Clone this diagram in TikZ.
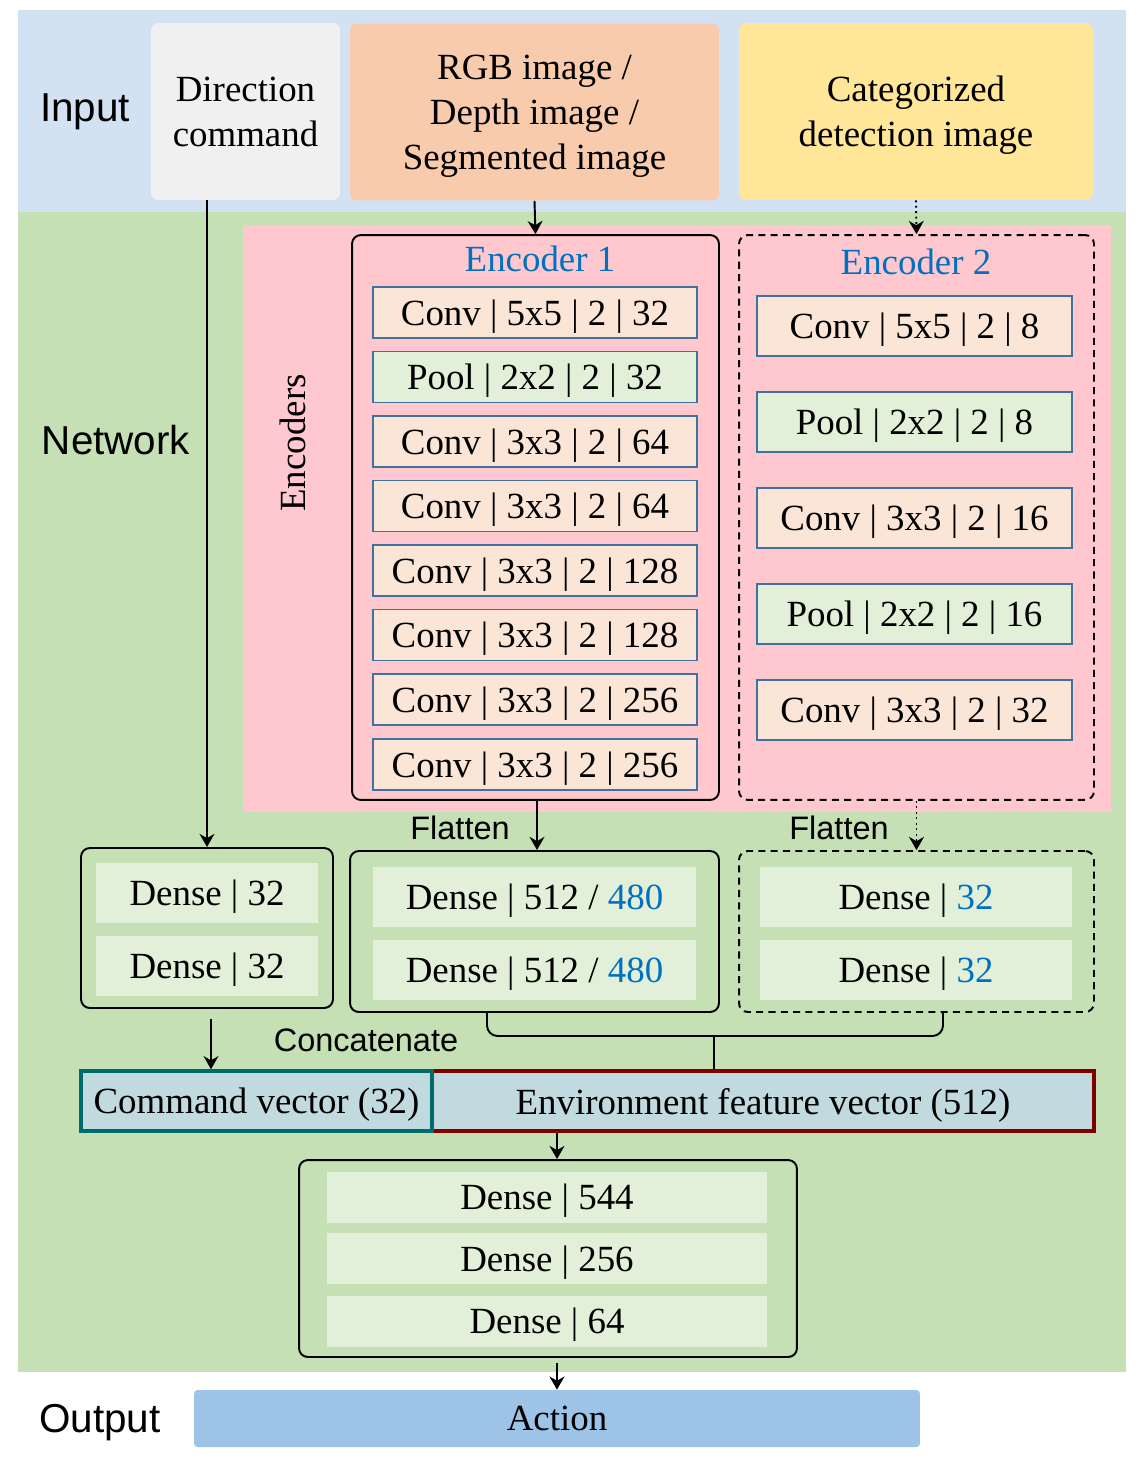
\documentclass[tikz,border=0pt]{standalone}
\usepackage{fontspec}
\setmainfont{Liberation Serif}
\setsansfont{Liberation Sans}
\usetikzlibrary{arrows.meta,calc}

\definecolor{inband}{HTML}{D2E2F2}
\definecolor{netband}{HTML}{C5E0B4}
\definecolor{dirfill}{HTML}{F0F0F0}
\definecolor{imgfill}{HTML}{F8CBAD}
\definecolor{detfill}{HTML}{FFE699}
\definecolor{encpink}{HTML}{FFC7CE}
\definecolor{convfill}{HTML}{FBE5D6}
\definecolor{poolfill}{HTML}{E2F0D9}
\definecolor{layerline}{HTML}{41719C}
\definecolor{numblue}{HTML}{0070C0}
\definecolor{vecfill}{HTML}{C1DADF}
\definecolor{cmdline}{HTML}{006B6B}
\definecolor{envline}{HTML}{800000}
\definecolor{actfill}{HTML}{9DC3E6}

\tikzset{
    txt/.style={font=\fontsize{21}{25.5}\selectfont, align=center, text depth=0pt},
    sans/.style={font=\sffamily\fontsize{23}{27}\selectfont, text depth=0pt},
    small sans/.style={font=\sffamily\fontsize{18.5}{22}\selectfont},
    inbox/.style={txt, rounded corners=4pt, inner sep=0pt, minimum height=3.54cm},
    layer/.style={txt, draw=layerline, line width=0.9pt, inner sep=0pt},
    conv/.style={layer, fill=convfill},
    pool/.style={layer, fill=poolfill},
    dense/.style={txt, fill=poolfill, inner sep=0pt, minimum height=1.2cm},
    group/.style={draw, line width=1.1pt, rounded corners=5pt, inner sep=0pt},
    arr/.style={-{Stealth[length=7.5pt,width=8.5pt]}, line width=1.1pt},
}

\begin{document}
\begin{tikzpicture}[x=0.02cm, y=-0.02cm]
    \useasboundingbox (0,0) rectangle (1144,1468);

    % bands
    \node[fill=inband, minimum width=22.16cm, minimum height=4.04cm, inner sep=0pt] (inband) at (572,111) {};
    \node[fill=netband, minimum width=22.16cm, minimum height=23.2cm, inner sep=0pt] (netband) at (572,792) {};
    \node[sans] (inlbl) at (85,108) {Input};
    \node[sans] (netlbl) at (116,440) {Network};
    \node[sans] (outlbl) at (100,1418) {Output};

    % inputs
    \node[inbox, fill=dirfill, minimum width=3.78cm] (dircmd) at (245.5,111.5) {Direction\\command};
    \node[inbox, fill=imgfill, minimum width=7.38cm] (img) at (534.5,112) {RGB image /\\Depth image /\\Segmented image};
    \node[inbox, fill=detfill, minimum width=7.08cm] (det) at (916,111.5) {Categorized\\detection image};

    % encoders
    \node[fill=encpink, minimum width=17.36cm, minimum height=11.74cm, inner sep=0pt] (encs) at (677,518.5) {};
    \node[txt, rotate=90] (encslbl) at (293,443) {Encoders};

    \node[group, fill=encpink, minimum width=7.34cm, minimum height=11.3cm] (enc1) at (535.5,517.5) {};
    \node[txt, text=numblue] (enc1lbl) at (540,259) {Encoder 1};
    \node[conv, minimum width=6.48cm, minimum height=1.02cm] (e1a) at (535,312.5) {Conv | 5x5 | 2 | 32};
    \node[pool, minimum width=6.48cm, minimum height=1.02cm] (e1b) at (535,377) {Pool | 2x2 | 2 | 32};
    \node[conv, minimum width=6.48cm, minimum height=1.02cm] (e1c) at (535,441.5) {Conv | 3x3 | 2 | 64};
    \node[conv, minimum width=6.48cm, minimum height=1.02cm] (e1d) at (535,506) {Conv | 3x3 | 2 | 64};
    \node[conv, minimum width=6.48cm, minimum height=1.02cm] (e1e) at (535,570.5) {Conv | 3x3 | 2 | 128};
    \node[conv, minimum width=6.48cm, minimum height=1.02cm] (e1f) at (535,635) {Conv | 3x3 | 2 | 128};
    \node[conv, minimum width=6.48cm, minimum height=1.02cm] (e1g) at (535,699.5) {Conv | 3x3 | 2 | 256};
    \node[conv, minimum width=6.48cm, minimum height=1.02cm] (e1h) at (535,764.5) {Conv | 3x3 | 2 | 256};

    \node[group, dashed, dash pattern=on 4pt off 3pt, minimum width=7.1cm, minimum height=11.3cm] (enc2) at (916.5,517.5) {};
    \node[txt, text=numblue] (enc2lbl) at (916,262) {Encoder 2};
    \node[conv, minimum width=6.3cm, minimum height=1.2cm] (e2a) at (914.5,326) {Conv | 5x5 | 2 | 8};
    \node[pool, minimum width=6.3cm, minimum height=1.2cm] (e2b) at (914.5,422) {Pool | 2x2 | 2 | 8};
    \node[conv, minimum width=6.3cm, minimum height=1.2cm] (e2c) at (914.5,518) {Conv | 3x3 | 2 | 16};
    \node[pool, minimum width=6.3cm, minimum height=1.2cm] (e2d) at (914.5,614) {Pool | 2x2 | 2 | 16};
    \node[conv, minimum width=6.3cm, minimum height=1.2cm] (e2e) at (914.5,710) {Conv | 3x3 | 2 | 32};

    % dense branches
    \node[group, minimum width=5.04cm, minimum height=3.2cm] (cmdgrp) at (207,928) {};
    \node[dense, minimum width=4.44cm] (cmdd1) at (207,893) {Dense | 32};
    \node[dense, minimum width=4.44cm] (cmdd2) at (207,965.5) {Dense | 32};

    \node[small sans] (flat1) at (460,828) {Flatten};
    \node[group, minimum width=7.38cm, minimum height=3.22cm] (imggrp) at (534.5,931.5) {};
    \node[dense, minimum width=6.46cm] (imgd1) at (534.5,897) {Dense | 512 / \textcolor{numblue}{480}};
    \node[dense, minimum width=6.46cm] (imgd2) at (534.5,970) {Dense | 512 / \textcolor{numblue}{480}};

    \node[small sans] (flat2) at (839,828) {Flatten};
    \node[group, dashed, dash pattern=on 4pt off 3pt, minimum width=7.1cm, minimum height=3.22cm] (detgrp) at (916.5,931.5) {};
    \node[dense, minimum width=6.24cm] (detd1) at (916,897) {Dense | \textcolor{numblue}{32}};
    \node[dense, minimum width=6.24cm] (detd2) at (916,969.5) {Dense | \textcolor{numblue}{32}};

    % concatenation
    \node[small sans] (concat) at (366,1040) {Concatenate};
    \node[txt, fill=vecfill, draw=envline, line width=2pt, minimum width=13.24cm, minimum height=1.2cm, inner sep=0pt] (envvec) at (763,1101) {Environment feature vector (512)};
    \node[txt, fill=vecfill, draw=cmdline, line width=2pt, minimum width=7.02cm, minimum height=1.2cm, inner sep=0pt] (cmdvec) at (256.5,1101) {Command vector (32)};
    \coordinate (brl) at (487,1012);
    \coordinate (brr) at (943,1012);
    \coordinate (brm) at (714,1036);
    \draw[line width=1.1pt, rounded corners=6pt] (brl) -- (brl |- brm) -- (brr |- brm) -- (brr);
    \draw[line width=1.1pt] (brm) -- (envvec.north -| brm);

    % head
    \node[group, minimum width=9.96cm, minimum height=3.94cm] (outgrp) at (548,1258.5) {};
    \node[dense, minimum width=8.8cm, minimum height=1.02cm] (outd1) at (547,1197) {Dense | 544};
    \node[dense, minimum width=8.8cm, minimum height=1.02cm] (outd2) at (547,1258.5) {Dense | 256};
    \node[dense, minimum width=8.8cm, minimum height=1.02cm] (outd3) at (547,1321) {Dense | 64};

    \node[txt, fill=actfill, rounded corners=2pt, minimum width=14.52cm, minimum height=1.14cm, inner sep=0pt] (action) at (557,1418.5) {Action};

    % arrow positions
    \coordinate (x1) at (537,0);
    \coordinate (x2) at (211,0);
    \coordinate (x3) at (557,0);

    % arrows
    \draw[arr] (dircmd.south -| cmdgrp.north) -- (cmdgrp.north);
    \draw[arr] (img.south) -- (enc1.north);
    \draw[arr, dotted] (det.south) -- (enc2.north);
    \draw[arr] (enc1.south -| x1) -- (imggrp.north -| x1);
    \draw[arr, dotted] (enc2.south) -- (detgrp.north);
    \draw[arr] ($(cmdgrp.south -| x2)+(0,10)$) -- (cmdvec.north -| x2);
    \draw[arr] (envvec.south -| x3) -- (outgrp.north -| x3);
    \draw[arr] ($(outgrp.south -| x3)+(0,5)$) -- (action.north -| x3);
\end{tikzpicture}
\end{document}
